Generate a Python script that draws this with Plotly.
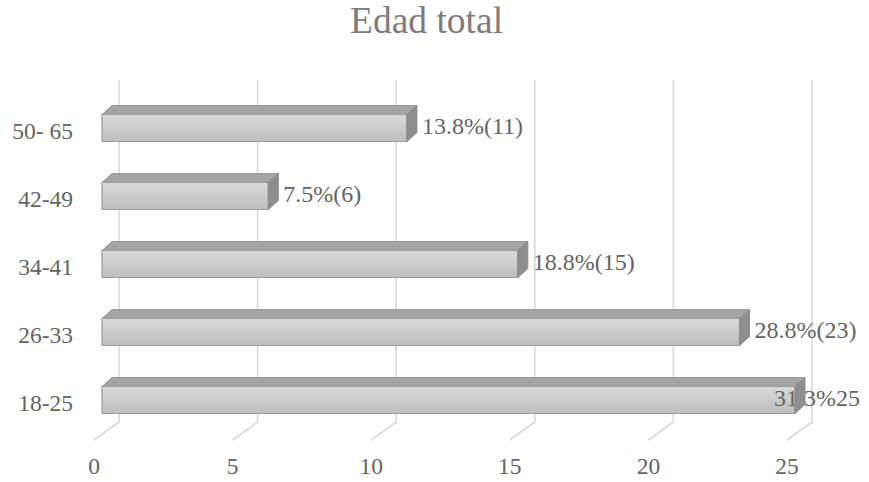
import plotly.graph_objects as go

# Age groups (bottom to top) and their counts
categories = ["18-25", "26-33", "34-41", "42-49", "50- 65"]
counts = [25, 23, 15, 6, 11]
value_labels = ["31.3%25", "28.8%(23)", "18.8%(15)", "7.5%(6)", "13.8%(11)"]
x_ticks = [0, 5, 10, 15, 20, 25]
title_text = "Edad total"

# ---- geometry of the pseudo-3D scene (in axis units) ----
W, H = 869, 482
PX_X = 27.72          # pixels per unit of count
PX_Y = 68.0           # pixels per category step
X0_PX, Y0_PX = 102, 400
x_range = [-X0_PX / PX_X, (W - X0_PX) / PX_X]
y_range = [(Y0_PX - H) / PX_Y, Y0_PX / PX_Y]

HALF = 13.5 / PX_Y            # half height of a bar's front face
DX, DY = 10 / PX_X, 9 / PX_Y  # depth extrusion of each bar
BACK_DX = 17 / PX_X           # back wall offset for gridlines
GRID_TOP = (Y0_PX - 80) / PX_Y
FLOOR_BACK = (Y0_PX - 422) / PX_Y
FLOOR_FRONT = (Y0_PX - 440) / PX_Y
FRONT_DX = -8 / PX_X
TICK_Y = (Y0_PX - 468) / PX_Y
CAT_X = (73 - X0_PX) / PX_X
CAT_DY = -5 / PX_Y
LABEL_PAD = 5 / PX_X
LABEL_XMAX = (860 - X0_PX) / PX_X

FONT = "Liberation Serif, Times New Roman, serif"
TXT = "#646464"
LBL_SIZE = 24

fig = go.Figure()

# Gridlines on the back wall, bending forward along the floor
gx, gy = [], []
for t in x_ticks:
    gx += [t + BACK_DX, t + BACK_DX, t + FRONT_DX, None]
    gy += [GRID_TOP, FLOOR_BACK, FLOOR_FRONT, None]
fig.add_trace(go.Scatter(x=gx, y=gy, mode="lines",
                         line=dict(color="#d9d9d9", width=1.6),
                         hoverinfo="skip"))

# Front faces of the bars with a soft vertical gradient
for i, v in enumerate(counts):
    fig.add_trace(go.Scatter(
        x=[0, v, v, 0, 0],
        y=[i - HALF, i - HALF, i + HALF, i + HALF, i - HALF],
        mode="lines", fill="toself",
        fillgradient=dict(type="vertical",
                          colorscale=[[0, "#bebebe"], [1, "#dadada"]]),
        line=dict(color="#9c9c9c", width=1.2),
        hoverinfo="skip"))

# Value labels (drawn before the side faces so the extrusion can overlap them)
lx, ly, lpos = [], [], []
for i, (v, s) in enumerate(zip(counts, value_labels)):
    start = v + DX + LABEL_PAD
    est_w = len(s) * 0.48 * LBL_SIZE / PX_X
    if start + est_w > LABEL_XMAX:
        lx.append(LABEL_XMAX)
        lpos.append("middle left")
    else:
        lx.append(start)
        lpos.append("middle right")
    ly.append(i)
fig.add_trace(go.Scatter(x=lx, y=ly, mode="text", text=value_labels,
                         textposition=lpos,
                         textfont=dict(family=FONT, size=LBL_SIZE, color=TXT),
                         hoverinfo="skip"))

# Top and right-hand faces of each bar
for i, v in enumerate(counts):
    yb, yt = i - HALF, i + HALF
    fig.add_trace(go.Scatter(
        x=[0, v, v + DX, DX, 0], y=[yt, yt, yt + DY, yt + DY, yt],
        mode="lines", fill="toself", fillcolor="#a4a4a4",
        line=dict(color="#9a9a9a", width=1), hoverinfo="skip"))
    fig.add_trace(go.Scatter(
        x=[v, v + DX, v + DX, v, v], y=[yb, yb + DY, yt + DY, yt, yb],
        mode="lines", fill="toself", fillcolor="#8e8e8e",
        line=dict(color="#8a8a8a", width=1), hoverinfo="skip"))

# Category labels on the left
fig.add_trace(go.Scatter(x=[CAT_X] * len(categories),
                         y=[i + CAT_DY for i in range(len(categories))],
                         mode="text", text=categories, textposition="middle left",
                         textfont=dict(family=FONT, size=23.5, color=TXT),
                         hoverinfo="skip"))

# Tick labels along the floor
fig.add_trace(go.Scatter(x=[t + FRONT_DX for t in x_ticks], y=[TICK_Y] * len(x_ticks),
                         mode="text", text=[str(t) for t in x_ticks],
                         textposition="middle center",
                         textfont=dict(family=FONT, size=23.5, color=TXT),
                         hoverinfo="skip"))

fig.add_annotation(text=title_text, xref="paper", yref="paper",
                   x=426 / W, y=1 - 21 / H, xanchor="center", yanchor="middle",
                   showarrow=False,
                   font=dict(family=FONT, size=37.5, color="#7c7c7c"))

fig.update_layout(
    width=W, height=H, margin=dict(l=0, r=0, t=0, b=0),
    paper_bgcolor="white", plot_bgcolor="white", showlegend=False,
    xaxis=dict(range=x_range, visible=False, fixedrange=True),
    yaxis=dict(range=y_range, visible=False, fixedrange=True),
)

fig.write_html("out.html")
